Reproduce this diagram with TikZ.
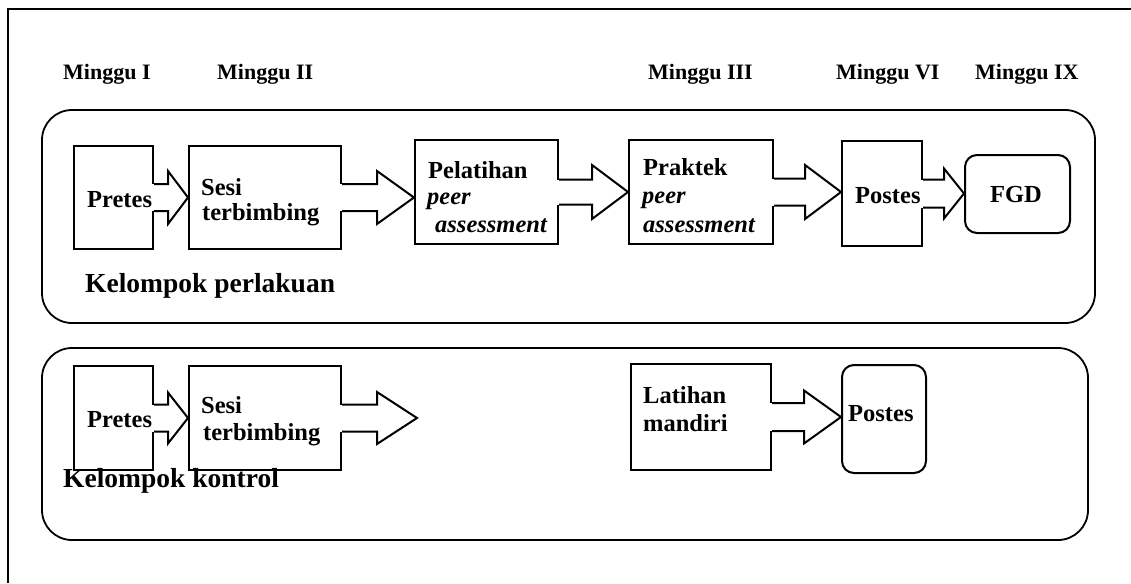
\documentclass[tikz,border=0pt]{standalone}
\usepackage{fontspec}
\setmainfont{Liberation Serif}
\usetikzlibrary{calc}
\tikzset{
  ln/.style={line width=2pt, draw=black},
  box/.style={ln, rectangle, anchor=north west, inner sep=0pt, fill=white},
  rbox/.style={box, rounded corners=12pt},
  group/.style={line width=1.8pt, draw=black, rounded corners=30pt},
  week/.style={anchor=base west, inner sep=0pt, font=\fontsize{22}{24}\selectfont\bfseries},
  lbl/.style={anchor=base west, inner sep=0pt, font=\fontsize{24.5}{27}\selectfont\bfseries},
  ilbl/.style={lbl, font=\fontsize{24.5}{27}\selectfont\bfseries\itshape},
  grp/.style={anchor=base west, inner sep=0pt, font=\fontsize{27.5}{30}\selectfont\bfseries},
}
% block arrow from the east side of #1 to the point #2
% #3 shaft half height, #4 head half height, #5 head length
\newcommand\blkarrow[5]{%
  \fill[white] let \p1=(#1.east), \p2=(#2) in
    (\x1-2pt,\y1-#3pt) rectangle (\x2-#5pt,\y1+#3pt);
  \draw[ln, line join=miter] let \p1=(#1.east), \p2=(#2) in
    (\x1,\y1+#3pt) -- (\x2-#5pt,\y1+#3pt) -- (\x2-#5pt,\y1+#4pt)
      -- (\x2,\y1) -- (\x2-#5pt,\y1-#4pt) -- (\x2-#5pt,\y1-#3pt) -- (\x1,\y1-#3pt);%
}
\begin{document}
\begin{tikzpicture}[x=1pt,y=-1pt]
\useasboundingbox (0,0) rectangle (1131,583);
\draw[line width=2.2pt] (8,583) -- (8,9) -- (1131,9);

% week labels
\node[week] (w1) at (63,80) {Minggu I};
\node[week] (w2) at (217,80) {Minggu II};
\node[week] (w3) at (648,80) {Minggu III};
\node[week] (w6) at (836,80) {Minggu VI};
\node[week] (w9) at (975,80) {Minggu IX};

% group containers
\draw[group] (42,110) rectangle (1095,323);
\draw[group] (42,348) rectangle (1088,540);

% treatment group boxes
\node[box, minimum width=79pt, minimum height=103pt] (pre1) at (73,145) {};
\node[box, minimum width=152pt, minimum height=103pt] (sesi1) at (188,145) {};
\node[box, minimum width=143pt, minimum height=104pt] (pel) at (414,139) {};
\node[box, minimum width=144pt, minimum height=104pt] (prak) at (628,139) {};
\node[box, minimum width=80pt, minimum height=105pt] (pos1) at (841,140) {};
\node[rbox, minimum width=105pt, minimum height=78pt] (fgd) at (964,154) {};

\blkarrow{pre1}{sesi1.west}{13.5}{26.5}{20}
\blkarrow{sesi1}{pel.west}{13.5}{26.5}{37}
\blkarrow{pel}{prak.west}{12.5}{27}{36}
\blkarrow{prak}{pos1.west}{13.5}{27}{36}
\blkarrow{pos1}{fgd.west}{14}{25}{20}

% control group boxes
\node[box, minimum width=79pt, minimum height=104pt] (pre2) at (73,365) {};
\node[box, minimum width=152pt, minimum height=104pt] (sesi2) at (188,365) {};
\coordinate (end2) at (417,417);
\node[box, minimum width=140pt, minimum height=106pt] (lat) at (630,363) {};
\node[rbox, minimum width=84pt, minimum height=108pt] (pos2) at (841,364) {};

\blkarrow{pre2}{sesi2.west}{13.5}{25.5}{20}
\blkarrow{sesi2}{end2}{13.5}{26}{40}
\blkarrow{lat}{pos2.west}{14}{26.5}{37}

% texts, treatment group
\node[lbl] (tpre1) at (87,207) {Pretes};
\node[lbl] (tsesi1a) at (201,195) {Sesi};
\node[lbl] (tsesi1b) at (202,220) {terbimbing};
\node[lbl] (tpel1) at (428,178) {Pelatihan};
\node[ilbl] (tpel2) at (427,204) {peer};
\node[ilbl] (tpel3) at (435,232) {assessment};
\node[lbl] (tprak1) at (643,175) {Praktek};
\node[ilbl] (tprak2) at (642,203) {peer};
\node[ilbl] (tprak3) at (643,232) {assessment};
\node[lbl] (tpos1) at (855,203) {Postes};
\node[lbl] (tfgd) at (990,202) {FGD};
\node[grp] (g1) at (85,292) {Kelompok perlakuan};

% texts, control group
\node[lbl] (tpre2) at (87,427) {Pretes};
\node[lbl] (tsesi2a) at (201,413) {Sesi};
\node[lbl] (tsesi2b) at (203,440) {terbimbing};
\node[grp] (g2) at (63,487) {Kelompok kontrol};
\node[lbl] (tlat1) at (643,403) {Latihan};
\node[lbl] (tlat2) at (643,431) {mandiri};
\node[lbl] (tpos2) at (848,421) {Postes};
\end{tikzpicture}
\end{document}
